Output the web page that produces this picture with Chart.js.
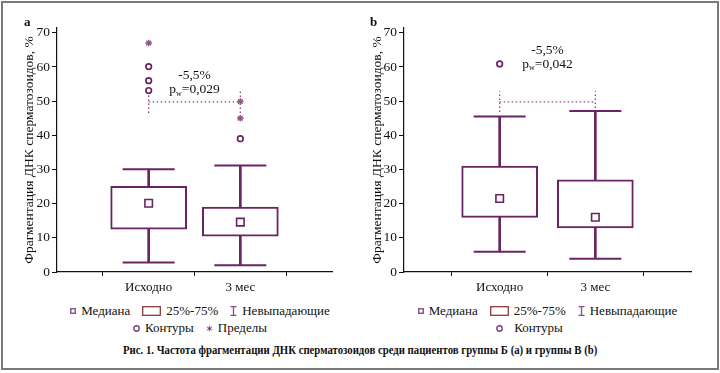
<!DOCTYPE html>
<html>
<head>
<meta charset="utf-8">
<script src="https://cdn.jsdelivr.net/npm/chart.js@4.4.0/dist/chart.umd.min.js"></script>
<style>
  body { margin: 0; background: #fff; }
  #page { position: relative; width: 720px; height: 373px; overflow: hidden; font-family: 'Liberation Serif', 'Times New Roman', serif; color: #111; }
  #frame { position: absolute; left: 1px; top: 1px; width: 718px; height: 369px; box-sizing: border-box; border: 2px solid #7a7a7a; }
  canvas { position: absolute; top: 0; }
  .panel { position: absolute; top: 14px; font-weight: bold; font-size: 13px; }
  .legend-row { position: absolute; display: flex; justify-content: center; align-items: center; font-size: 13px; white-space: nowrap; }
  .legend-row .item { display: flex; align-items: center; margin: 0 6px; }
  .legend-row svg { margin-right: 5px; }
  #caption { position: absolute; top: 343px; left: 0; width: 720px; text-align: center; font-weight: bold; font-size: 12.5px; transform: scaleX(0.86); transform-origin: 361px 0; }
</style>
</head>
<body>
<div id="page">
  <div id="frame"></div>
  <canvas id="chart_a" width="360" height="300" style="left:0"></canvas>
  <canvas id="chart_b" width="360" height="300" style="left:360px"></canvas>
  <div class="panel" style="left:24px">a</div>
  <div class="panel" style="left:370px">b</div>

  <div class="legend-row" style="left:57px;width:286px;top:303px">
    <div class="item"><svg width="6" height="6"><rect x="0.75" y="0.75" width="4.5" height="4.5" fill="none" stroke="#8c5a8c" stroke-width="1.5"/></svg>Медиана</div>
    <div class="item"><svg width="19" height="10"><rect x="0.7" y="0.7" width="17.6" height="8.6" fill="none" stroke="#8b3a3a" stroke-width="1.3"/></svg>25%-75%</div>
    <div class="item"><svg width="7" height="10"><path d="M0.5 0.7H6.5M3.5 0.7V9.3M0.5 9.3H6.5" stroke="#8a4a8a" stroke-width="1.3" fill="none"/></svg>Невыпадающие</div>
  </div>
  <div class="legend-row" style="left:57px;width:286px;top:320px">
    <div class="item"><svg width="7" height="7"><circle cx="3.5" cy="3.5" r="2.7" fill="none" stroke="#7a3a78" stroke-width="1.4"/></svg>Контуры</div>
    <div class="item"><svg width="7" height="7"><path d="M3.5 0.5V6.5M0.9 2L6.1 5M0.9 5L6.1 2" stroke="#a07aa0" stroke-width="1.2"/><circle cx="3.5" cy="3.5" r="1.1" fill="#6a2463"/></svg>Пределы</div>
  </div>

  <div class="legend-row" style="left:404px;width:287px;top:303px">
    <div class="item"><svg width="6" height="6"><rect x="0.75" y="0.75" width="4.5" height="4.5" fill="none" stroke="#8c5a8c" stroke-width="1.5"/></svg>Медиана</div>
    <div class="item"><svg width="19" height="10"><rect x="0.7" y="0.7" width="17.6" height="8.6" fill="none" stroke="#8b3a3a" stroke-width="1.3"/></svg>25%-75%</div>
    <div class="item"><svg width="7" height="10"><path d="M0.5 0.7H6.5M3.5 0.7V9.3M0.5 9.3H6.5" stroke="#8a4a8a" stroke-width="1.3" fill="none"/></svg>Невыпадающие</div>
  </div>
  <div class="legend-row" style="left:386px;width:287px;top:320px">
    <div class="item"><svg width="7" height="7"><circle cx="3.5" cy="3.5" r="2.7" fill="none" stroke="#7a3a78" stroke-width="1.4"/></svg><span style="margin-left:6px">Контуры</span></div>
  </div>

  <div id="caption">Рис. 1. Частота фрагментации ДНК сперматозоидов среди пациентов группы Б (a) и группы В (b)</div>
</div>

<script>
// ── Data ─────────────────────────────────────────────────────────────────────

const categories = ['Исходно', '3 мес'];
const y_ticks = [0, 10, 20, 30, 40, 50, 60, 70];
const y_title = 'Фрагментация ДНК сперматозоидов, %';

// panel a — группа Б
const a_min = [2.8, 2.0];
const a_q1 = [12.5, 10.5];
const a_median = [20.1, 14.6];
const a_q3 = [25.1, 19.0];
const a_max = [30.1, 31.2];
const a_outliers = [[53.1, 56.0, 60.1], [39.0]];
const a_extremes = [[67.0], [45.0, 49.9]];
const a_bracket = [46.5, 49.8, 52.9];   // low, level, high
const a_diff = '-5,5%';
const a_p = '0,029';

// panel b — группа В
const b_min = [5.9, 3.9];
const b_q1 = [16.0, 12.9];
const b_median = [21.5, 16.0];
const b_q3 = [31.0, 27.0];
const b_max = [45.5, 47.1];
const b_outliers = [[60.9], []];
const b_extremes = [[], []];
const b_bracket = [46.8, 49.8, 52.9];
const b_diff = '-5,5%';
const b_p = '0,042';

// ── Styles ───────────────────────────────────────────────────────────────────

const PURPLE = '#6a2463';
const STAR = '#8e5a8c';
const DOTS = '#8a4a85';
const INK = '#111';
const FONT = "'Liberation Serif', 'Times New Roman', serif";

// ── Helpers ──────────────────────────────────────────────────────────────────

function pos(i) { return i + 1; }

function flat_points(groups) {
  const out = [];
  groups.forEach((vals, i) => vals.forEach(v => out.push({ x: pos(i), y: v })));
  return out;
}

// draws "-5,5%" and "p_w=..." between the two groups
const diff_label = {
  id: 'diff_label',
  afterDatasetsDraw(chart, args, opts) {
    const { ctx, scales: { x, y } } = chart;
    const cx = x.getPixelForValue(1.5);
    ctx.save();
    ctx.fillStyle = INK;
    ctx.textBaseline = 'middle';
    ctx.font = '13.5px ' + FONT;
    ctx.textAlign = 'center';
    ctx.fillText(opts.diff, cx, y.getPixelForValue(opts.y1));

    const py = y.getPixelForValue(opts.y2);
    const rest = '=' + opts.p;
    const w_p = ctx.measureText('p').width;
    const w_rest = ctx.measureText(rest).width;
    ctx.font = '8px ' + FONT;
    const w_sub = ctx.measureText('w').width;
    const left = cx - (w_p + w_sub + w_rest) / 2;
    ctx.textAlign = 'left';
    ctx.font = '13.5px ' + FONT;
    ctx.fillText('p', left, py);
    ctx.font = '8px ' + FONT;
    ctx.fillText('w', left + w_p, py + 4);
    ctx.font = '13.5px ' + FONT;
    ctx.fillText(rest, left + w_p + w_sub, py);
    ctx.restore();
  }
};

function make_chart(id, d, layout) {
  const box_data = categories.map((c, i) => ({ x: pos(i), y: [d.q1[i], d.q3[i]] }));
  const whisker_data = categories.map((c, i) => ({ x: pos(i), y: [d.min[i], d.max[i]] }));
  const cap_data = categories.map((c, i) => ({ x: pos(i), y: d.max[i] }))
    .concat(categories.map((c, i) => ({ x: pos(i), y: d.min[i] })));
  const median_data = categories.map((c, i) => ({ x: pos(i), y: d.median[i] }));

  const [lo, lvl, hi] = d.bracket;
  const dotted = { type: 'line', borderColor: DOTS, borderWidth: 1.3, borderDash: [1.5, 2.5], pointRadius: 0, order: 3 };

  return new Chart(document.getElementById(id), {
    type: 'scatter',
    data: {
      datasets: [
        { ...dotted, data: [{ x: 1, y: lvl }, { x: 2, y: lvl }] },
        { ...dotted, data: [{ x: 1, y: lo }, { x: 1, y: hi }] },
        { ...dotted, data: [{ x: 2, y: lo }, { x: 2, y: hi }] },
        {
          type: 'bar', data: box_data, grouped: false, barThickness: 76,
          backgroundColor: '#fff', borderColor: PURPLE, borderWidth: 2, borderSkipped: false, order: 1,
        },
        {
          type: 'bar', data: whisker_data, grouped: false, barThickness: 2,
          backgroundColor: PURPLE, borderWidth: 0, order: 2,
        },
        {
          type: 'scatter', data: cap_data, pointStyle: 'line', pointRadius: 26,
          borderColor: PURPLE, borderWidth: 2, order: 0,
        },
        {
          type: 'scatter', data: median_data, pointStyle: 'rect', pointRadius: 5.3,
          backgroundColor: '#fff', borderColor: PURPLE, borderWidth: 1.6, order: 0,
        },
        {
          type: 'scatter', data: flat_points(d.outliers), pointStyle: 'circle', pointRadius: 2.8,
          backgroundColor: '#fff', borderColor: PURPLE, borderWidth: 1.7, order: 0,
        },
        {
          type: 'scatter', data: flat_points(d.extremes), pointStyle: 'star', pointRadius: 3.3,
          backgroundColor: STAR, borderColor: STAR, borderWidth: 1.4, order: 0,
        },
      ],
    },
    options: {
      responsive: false,
      animation: false,
      events: [],
      layout: { padding: { left: 0, top: 25, right: layout.right, bottom: 0 } },
      plugins: {
        legend: { display: false },
        tooltip: { enabled: false },
        diff_label: { diff: d.diff, p: d.p, y1: d.label_y[0], y2: d.label_y[1] },
      },
      scales: {
        x: {
          type: 'linear', min: 0, max: 3, offset: false,
          afterBuildTicks: s => { s.ticks = categories.map((c, i) => ({ value: pos(i) })); },
          afterFit: s => { s.height = 25; },
          ticks: {
            color: INK, padding: 4, maxRotation: 0,
            font: { family: FONT, size: 13 },
            callback: v => categories[v - 1],
          },
          grid: { display: true, drawOnChartArea: false, tickLength: 4, color: INK, lineWidth: 1 },
          border: { color: INK, width: 1.2 },
        },
        y: {
          type: 'linear', min: 0, max: 71.4,
          afterBuildTicks: s => { s.ticks = y_ticks.map(v => ({ value: v })); },
          afterFit: s => { s.width = layout.axis; },
          ticks: { color: INK, padding: 2, font: { family: FONT, size: 13.5 } },
          grid: { display: true, drawOnChartArea: false, tickLength: 5, color: INK, lineWidth: 1 },
          border: { color: INK, width: 1.2 },
          title: {
            display: true, text: y_title, color: INK,
            font: { family: FONT, size: 13.5 },
            padding: { top: layout.title, bottom: 0 },
          },
        },
      },
    },
    plugins: [diff_label],
  });
}

make_chart('chart_a', {
  min: a_min, q1: a_q1, median: a_median, q3: a_q3, max: a_max,
  outliers: a_outliers, extremes: a_extremes, bracket: a_bracket,
  diff: a_diff, p: a_p, label_y: [57.4, 53.4],
}, { axis: 57, right: 17, title: 21 });

make_chart('chart_b', {
  min: b_min, q1: b_q1, median: b_median, q3: b_q3, max: b_max,
  outliers: b_outliers, extremes: b_extremes, bracket: b_bracket,
  diff: b_diff, p: b_p, label_y: [64.8, 60.8],
}, { axis: 44, right: 29, title: 9 });
</script>
</body>
</html>
